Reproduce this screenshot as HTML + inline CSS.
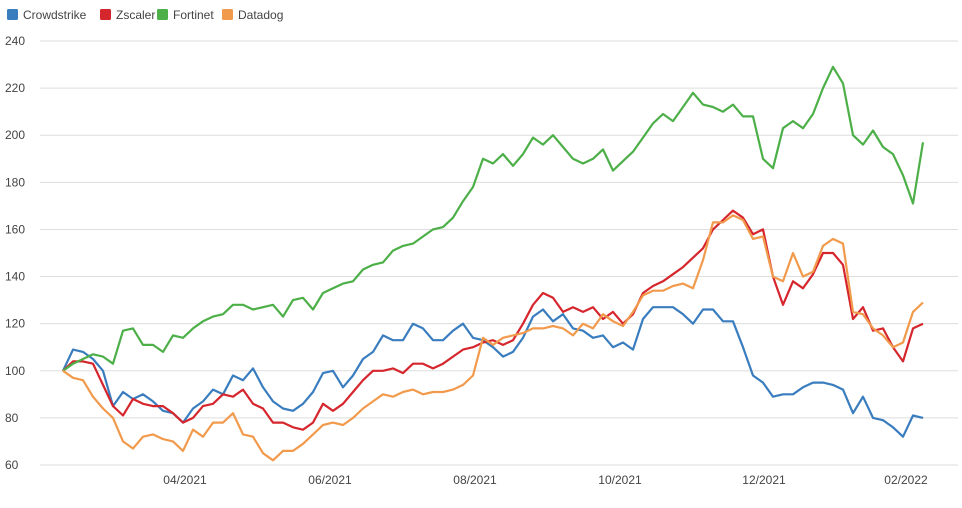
<!DOCTYPE html>
<html><head><meta charset="utf-8"><style>
body{margin:0;background:#fff;font-family:"Liberation Sans",sans-serif;}
svg text{font-family:"Liberation Sans",sans-serif;fill:#444;}
</style></head><body>
<svg width="962" height="503">
<g id="legend"></g>
<g id="grid"></g>
<g id="series"></g>
</svg>
<script>
const seriesNames=["Crowdstrike","Zscaler","Fortinet","Datadog"];
const colors=["#3a7dbf","#d6262d","#4caf48","#f29a4c"];
const yTicks=[60,80,100,120,140,160,180,200,220,240];
const xTickLabels=["04/2021","06/2021","08/2021","10/2021","12/2021","02/2022"];
const xTickIdx=[12.2,26.7,41.2,55.7,70.1,84.3];
const crowdstrike=[100,109,108,105,100,85,91,88,90,87,83,82,78,84,87,92,90,98,96,101,93,87,84,83,86,91,99,100,93,98,105,108,115,113,113,120,118,113,113,117,120,114,113,110,106,108,114,123,126,121,124,118,117,114,115,110,112,109,122,127,127,127,124,120,126,126,121,121,110,98,95,89,90,90,93,95,95,94,92,82,89,80,79,76,72,81,80];
const zscaler=[100,104,104,103,94,85,81,88,86,85,85,82,78,80,85,86,90,89,92,86,84,78,78,76,75,78,86,83,86,91,96,100,100,101,99,103,103,101,103,106,109,110,112,113,111,113,120,128,133,131,125,127,125,127,122,125,120,124,133,136,138,141,144,148,152,160,164,168,165,158,160,140,128,138,135,141,150,150,145,122,127,117,118,110,104,118,120];
const fortinet=[100,103,105,107,106,103,117,118,111,111,108,115,114,118,121,123,124,128,128,126,127,128,123,130,131,126,133,135,137,138,143,145,146,151,153,154,157,160,161,165,172,178,190,188,192,187,192,199,196,200,195,190,188,190,194,185,189,193,199,205,209,206,212,218,213,212,210,213,208,208,190,186,203,206,203,209,220,229,222,200,196,202,195,192,183,171,197];
const datadog=[100,97,96,89,84,80,70,67,72,73,71,70,66,75,72,78,78,82,73,72,65,62,66,66,69,73,77,78,77,80,84,87,90,89,91,92,90,91,91,92,94,98,114,111,114,115,116,118,118,119,118,115,120,118,124,121,119,125,132,134,134,136,137,135,147,163,163,166,164,156,157,140,138,150,140,142,153,156,154,125,124,118,115,110,112,125,129];
const allSeries=[crowdstrike,zscaler,fortinet,datadog];
const NS="http://www.w3.org/2000/svg";
const X0=63,X1=923,PL=40,PR=958;
function xs(i){return X0+(X1-X0)*i/(crowdstrike.length-1);}
function ys(v){return 465-(v-60)*424/180;}
function mk(t,a,p){const e=document.createElementNS(NS,t);for(const k in a)e.setAttribute(k,a[k]);p.appendChild(e);return e;}
const grid=document.getElementById('grid');
yTicks.forEach(v=>{
 const l=mk('line',{x1:PL,x2:PR,y1:ys(v),y2:ys(v),stroke:'#ddd','stroke-width':1},grid);
 
 
 const t=mk('text',{x:5,y:ys(v)+4,'font-size':12},grid);t.textContent=v;
 
 
});
xTickLabels.forEach((s,i)=>{
 const t=mk('text',{x:xs(xTickIdx[i]),y:484,'font-size':12,'text-anchor':'middle'},grid);t.textContent=s;
 
 
});
const sg=document.getElementById('series');
allSeries.forEach((d,k)=>{
 const p=mk('path',{d:d.map((v,i)=>(i?'L':'M')+xs(i).toFixed(1)+','+ys(v).toFixed(1)).join(''),fill:'none',stroke:colors[k],'stroke-width':2.2,'stroke-linejoin':'round'},sg);
 
 
});
const lg=document.getElementById('legend');
const lx=[7,100,157,222];
seriesNames.forEach((n,k)=>{
 const g=mk('g',{},lg);
 
 
 mk('rect',{x:lx[k],y:9,width:11,height:11,rx:1.5,fill:colors[k]},g);
 const t=mk('text',{x:lx[k]+16,y:19,'font-size':12},g);t.textContent=n;
});
</script>
</body></html>
